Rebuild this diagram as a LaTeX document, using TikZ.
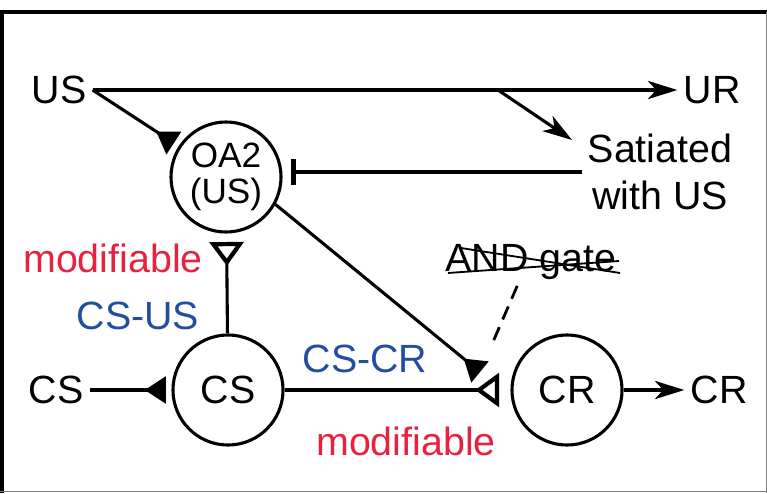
\documentclass[tikz,border=0pt]{standalone}
\usepackage{fontspec}
\setmainfont{Liberation Sans}
\usetikzlibrary{arrows.meta}
\definecolor{modred}{RGB}{232,33,62}
\definecolor{linkblue}{RGB}{34,78,160}
\begin{document}
\begin{tikzpicture}[x=0.025cm, y=-0.025cm, line width=2.2pt,
    font=\fontsize{28}{33}\selectfont,
    cell/.style={draw, circle, minimum size=2.75cm, inner sep=0pt},
    ex/.style={-{Stealth[length=21pt,width=13pt,inset=6pt]}},
    syn/.style={-{Triangle[reversed,length=15pt,width=19pt]}},
    opensyn/.style={-{Triangle[reversed,open,length=17pt,width=24pt,line width=3pt]}},
    inh/.style={-{Bar[width=18pt,line width=3.8pt]}}]
    \useasboundingbox (0,0) rectangle (767,493);
    % frame
    \draw[line width=2.9pt] (0,12) -- (767,12);
    \draw[line width=2.9pt] (1.5,12) -- (1.5,493);
    \draw[gray, line width=0.7pt] (766.5,12) -- (766.5,493);
    \draw[gray, line width=0.7pt] (0,491.5) -- (767,491.5);
    % cells and labels
    \node (us) at (59,90) {US};
    \node (ur) at (712,90) {UR};
    \node[align=center] (sat) at (660,172) {Satiated\\with US};
    \node[cell, font=\fontsize{25}{26}\selectfont, align=center] (oa) at (226,177) {OA2\\(US)};
    \node[cell] (cs) at (228,390) {CS};
    \node[cell] (cr) at (567,390) {CR};
    \node (csin) at (56,390) {CS};
    \node (crout) at (719,390) {CR};
    \node[text=modred] (modup) at (113,258) {modifiable};
    \node[text=modred] (moddown) at (406,441) {modifiable};
    \node[text=linkblue] (csus) at (138,316) {CS-US};
    \node[text=linkblue] (cscr) at (365,359) {CS-CR};
    \node (gate) at (531,262) {AND gate};
    \coordinate (split) at (498,90);
    \coordinate (satin) at (572,140);
    \coordinate (modpt) at (480,372);
    % connections
    \draw[ex] (us.east) -- (ur.west);
    \draw[ex] (split) -- (satin);
    \draw[syn, shorten >=4pt] (us.east) -- (oa);
    \draw[inh, shorten >=6pt] (sat.west) -- (sat.west -| oa.east);
    \draw[opensyn, shorten >=6pt] (cs) -- (oa);
    \draw[syn, shorten >=4pt] (csin) -- (cs);
    \draw[opensyn, shorten >=8pt] (cs) -- (cr);
    \draw[syn] (oa.-29) -- (modpt);
    \draw[ex] (cr) -- (crout);
    \draw[line width=2pt, dash pattern=on 10pt off 6pt, shorten >=20pt] (gate.240) -- (modpt);
    % crossed out
    \draw[line width=1.3pt] (448,273) -- (619,261);
    \draw[line width=1.3pt] (461,248) -- (620,273);
\end{tikzpicture}
\end{document}
